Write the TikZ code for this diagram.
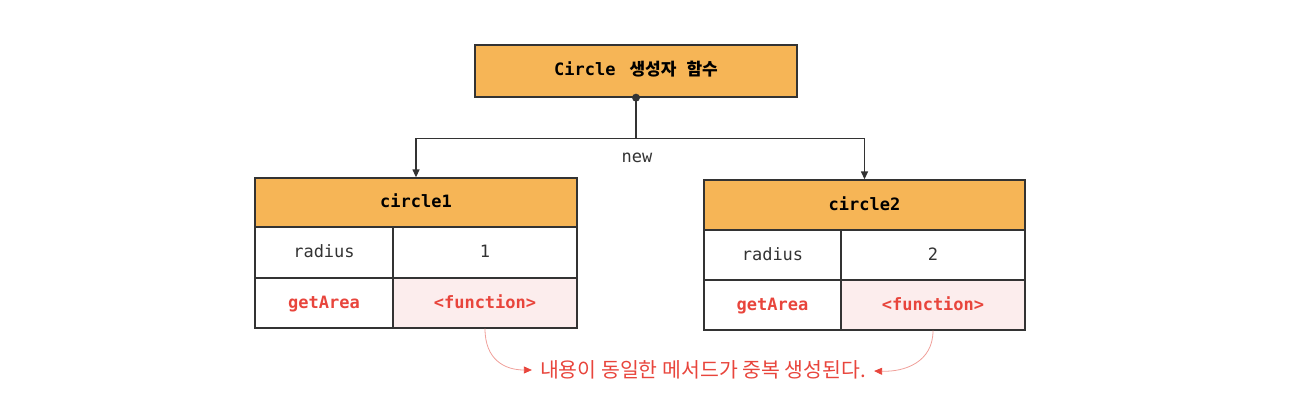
\documentclass[tikz,border=0pt]{standalone}
\usepackage{fontspec}
\setmonofont{DejaVu Sans Mono}
\newfontfamily\kr{Noto Sans CJK KR}
\usetikzlibrary{arrows.meta,calc}
\definecolor{hdr}{HTML}{F6B556}
\definecolor{redtxt}{HTML}{E8453C}
\definecolor{pinkfill}{HTML}{FCEDED}
\definecolor{linec}{HTML}{333333}
\definecolor{curvec}{HTML}{F0A09A}
\begin{document}
\begin{tikzpicture}[x=1pt,y=-1pt,
  cell/.style={draw=linec, line width=1.3pt, inner sep=0pt, text height=10pt, text depth=0pt, font=\ttfamily\fontsize{17}{19}\selectfont, text=linec},
  hcell/.style={cell, fill=hdr, font=\ttfamily\bfseries\fontsize{17}{19}\selectfont, text=black},
  redcell/.style={cell, text=redtxt, font=\ttfamily\bfseries\fontsize{17}{19}\selectfont},
  conn/.style={draw=linec, line width=1.3pt},
  curve/.style={draw=curvec, line width=0.8pt, -{Triangle[length=8pt,width=7pt,color=redtxt]}}
]
\useasboundingbox (0,0) rectangle (1294,412);
% top box
\node[hcell, minimum width=322pt, minimum height=52pt] (ctor) at (636,71)
  {Circle\hspace{14pt}{\kr\bfseries 생성자\hspace{10pt}함수}};
% left table
\node[hcell, minimum width=322pt, minimum height=49pt] (h1) at (416,202.5) {circle1};
\node[cell, minimum width=138pt, minimum height=51pt] (r1k) at (324,252.5) {radius};
\node[cell, minimum width=184pt, minimum height=51pt] (r1v) at (485,252.5) {1};
\node[redcell, minimum width=138pt, minimum height=50pt] (g1k) at (324,303) {getArea};
\node[redcell, fill=pinkfill, minimum width=184pt, minimum height=50pt] (g1v) at (485,303) {<function>};
% right table
\node[hcell, minimum width=321pt, minimum height=50pt] (h2) at (864.5,205) {circle2};
\node[cell, minimum width=137pt, minimum height=50pt] (r2k) at (772.5,255) {radius};
\node[cell, minimum width=184pt, minimum height=50pt] (r2v) at (933,255) {2};
\node[redcell, minimum width=137pt, minimum height=50pt] (g2k) at (772.5,305) {getArea};
\node[redcell, fill=pinkfill, minimum width=184pt, minimum height=50pt] (g2v) at (933,305) {<function>};
% connectors
\coordinate (j) at ($(ctor.south)+(0,41)$);
\draw[conn] (ctor.south) -- (j);
\fill[linec] (ctor.south) circle (4pt);
\draw[conn, -{Triangle[length=8pt,width=7pt]}] (j) -| (h1.north);
\draw[conn, -{Triangle[length=8pt,width=7pt]}] (j) -| (h2.north);
\node[font=\ttfamily\fontsize{17}{19}\selectfont, text=linec] (newlbl) at (637,158) {new};
% message
\node[text=redtxt, font=\kr\fontsize{20.5}{24}\selectfont, inner sep=2pt] (msg) at (703,370) {내용이 동일한 메서드가 중복 생성된다.};
\draw[curve] (g1v.south) .. controls (485,360) and (505,370) .. ($(msg.west)+(-6,0)$);
\draw[curve] (g2v.south) .. controls (933,362) and (905,372) .. ($(msg.east)+(6,1)$);
\end{tikzpicture}
\end{document}
